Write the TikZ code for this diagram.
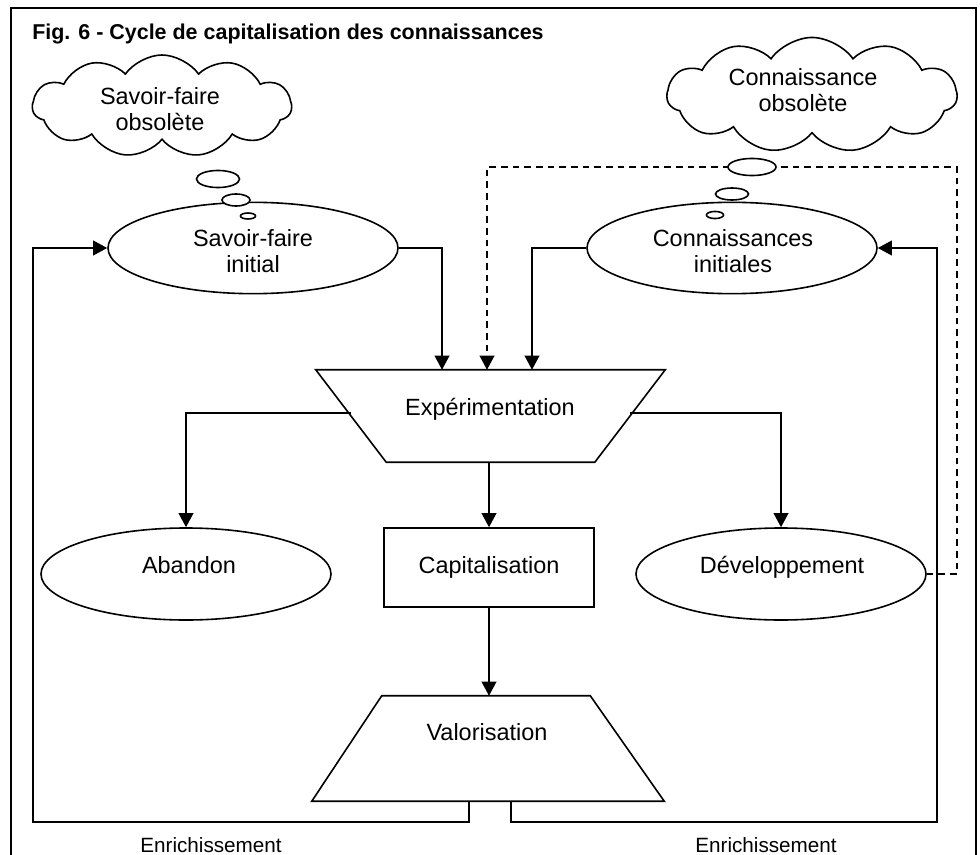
\documentclass[tikz,border=0pt]{standalone}
\usepackage{fontspec}
\setmainfont{Liberation Sans}
\usetikzlibrary{shapes.geometric,shapes.symbols,arrows.meta,calc}
\newcommand{\dgbody}{\fontsize{17.6}{19.5}\selectfont}
\newcommand{\dgtitle}{\bfseries\fontsize{16.1}{18}\selectfont}
\newcommand{\dgsmall}{\fontsize{15.5}{18}\selectfont}

\begin{document}
\begin{tikzpicture}[x=0.75pt,y=-0.75pt,
  base/.style={draw, line width=1.2pt, fill=white, inner sep=0pt},
  oval/.style={base, ellipse, minimum width=217.5pt, minimum height=68.5pt},
  bubble/.style={base, ellipse},
  thought/.style={base, cloud, cloud puffs=11, cloud puff arc=110, cloud ignores aspect},
  frame box/.style={rectangle, inner sep=0pt},
  outline/.style={line width=1.2pt, fill=white, line join=miter},
  txt/.style={font=\dgbody, align=center, inner sep=0pt},
  flow/.style={line width=1.2pt, -{Triangle[length=10.5pt,width=11pt]}},
  feedback/.style={flow, dash pattern=on 5pt off 3.75pt}
]
\useasboundingbox (0,0) rectangle (980,855);

% outer frame (open at the bottom)
\draw[line width=1pt] (11,860) -- (11,8) -- (976,8) -- (976,860);

% title
\node[anchor=base west, font=\dgtitle, inner sep=0pt] (title) at (32,40)
  {Fig. 6 - Cycle de capitalisation des connaissances};

% thought clouds
\node[thought, minimum width=194.3pt, minimum height=76.5pt] (oldsf) at (162,106) {};
\node[txt] (oldsf-t) at (160,109) {Savoir-faire\\obsolète};
\node[thought, minimum width=217.5pt, minimum height=86.3pt] (oldci) at (812,95) {};
\node[txt] (oldci-t) at (803,90) {Connaissance\\obsolète};

% initial states
\node[oval] (sfi) at (253,248) {};
\node[txt] (sfi-t) at (253,251) {Savoir-faire\\initial};
\node[oval] (ci) at (732,248) {};
\node[txt] (ci-t) at (733,251) {Connaissances\\initiales};

% experimentation: inverted trapezoid inside its bounding box
\node[frame box, minimum width=261.75pt, minimum height=69pt] (expe) at (490.5,416) {};
\draw[outline] (expe.north west) -- (expe.north east)
  -- ($(expe.south east)+(-70.5,0)$) -- ($(expe.south west)+(70.5,0)$) -- cycle;
\node[txt, anchor=base] (expe-t) at (490,415) {Expérimentation};

% outcomes
\node[oval, minimum height=69pt] (aband) at (186,574) {};
\node[txt, anchor=base] (aband-t) at (189,573) {Abandon};
\node[base, rectangle, minimum width=157.5pt, minimum height=59.25pt] (capi) at (489,567.5) {};
\node[txt, anchor=base] (capi-t) at (489,573) {Capitalisation};
\node[oval, minimum height=69pt] (devel) at (781,574) {};
\node[txt, anchor=base] (devel-t) at (782,573) {Développement};

% valorisation: trapezoid inside its bounding box
\node[frame box, minimum width=264pt, minimum height=78.75pt] (valo) at (488,748.5) {};
\draw[outline] (valo.south west) -- (valo.south east)
  -- ($(valo.north east)+(-74,0)$) -- ($(valo.north west)+(70,0)$) -- cycle;
\node[txt, anchor=base] (valo-t) at (487,740) {Valorisation};

% turning points of the long return paths
\coordinate (dashturn) at (957,167);
\coordinate (retL) at (33,822);
\coordinate (retR) at (937,822);

% connectors
\draw[flow] (sfi.east) -| ($(expe.north)+(-48.5,0)$);
\draw[flow] (ci.west) -| ($(expe.north)+(41.5,0)$);
\draw[feedback] (devel.east) -| (dashturn) -| ($(expe.north)+(-3.5,0)$);
\draw[flow] ($(expe.west)+(35,-3)$) -| (aband.north);
\draw[flow] ($(expe.east)+(-35,-3)$) -| (devel.north);
\draw[flow] (capi.north |- expe.south) -- (capi.north);
\draw[flow] (capi.south) -- (capi.south |- valo.north);
\draw[flow] ($(valo.south)+(-19,0)$) |- (retL) |- (sfi.west);
\draw[flow] ($(valo.south)+(23,0)$) |- (retR) |- (ci.east);

% enrichment labels
\node[anchor=base, font=\dgsmall, inner sep=0pt] (enrL) at (211,852) {Enrichissement};
\node[anchor=base, font=\dgsmall, inner sep=0pt] (enrR) at (766,852) {Enrichissement};

% thought bubbles
\node[bubble, minimum width=32.3pt, minimum height=12.8pt] (bl1) at (218,179) {};
\node[bubble, minimum width=21pt, minimum height=9pt] (bl2) at (236,200) {};
\node[bubble, minimum width=11.3pt, minimum height=4.5pt] (bl3) at (248,216) {};
\node[bubble, minimum width=36pt, minimum height=12.8pt] (br1) at (752,167) {};
\node[bubble, minimum width=24.8pt, minimum height=9pt] (br2) at (732,194) {};
\node[bubble, minimum width=12.8pt, minimum height=5.3pt] (br3) at (715,215) {};
\end{tikzpicture}
\end{document}
